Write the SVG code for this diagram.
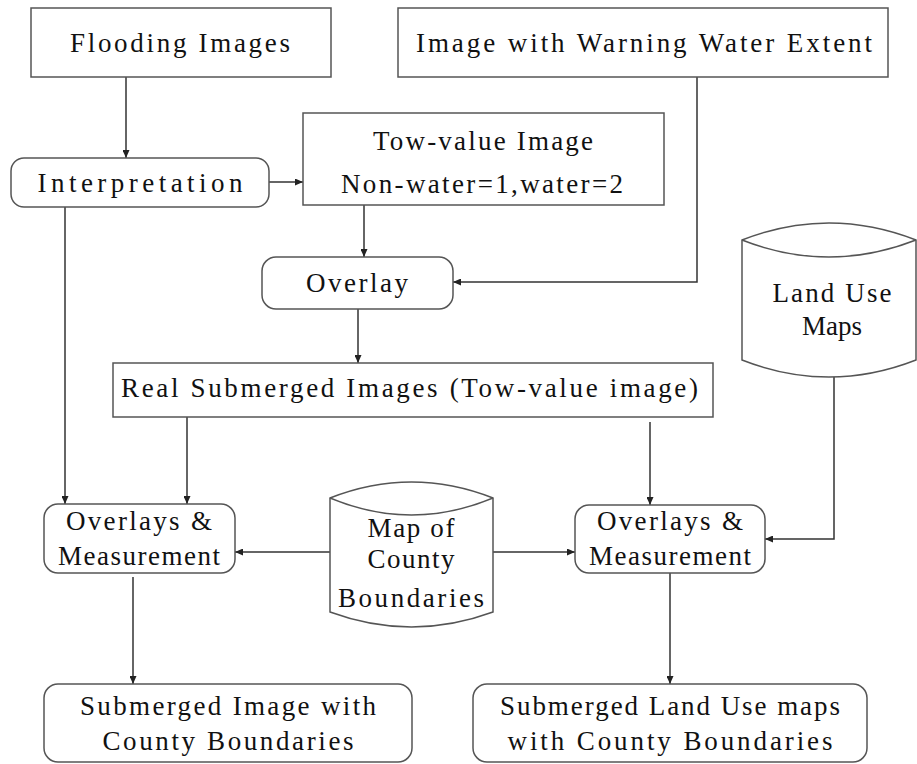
<svg xmlns="http://www.w3.org/2000/svg" width="917" height="764" viewBox="0 0 917 764">
<style>
.box{fill:#fff;stroke:#555;stroke-width:1.5}
.con{fill:none;stroke:#333;stroke-width:1.5}
text{font-family:"Liberation Serif","DejaVu Serif",serif;font-size:27px;fill:#111;text-anchor:middle}
</style>
<defs>
<marker id="ah" markerUnits="userSpaceOnUse" markerWidth="9" markerHeight="7" refX="8" refY="3.5" orient="auto">
<path d="M0,0 L8,3.5 L0,7 z" fill="#222"/>
</marker>
</defs>
<rect width="917" height="764" fill="#fff"/>
<g id="connectors">
<path class="con" d="M126,77 V158" marker-end="url(#ah)"/>
<path class="con" d="M269,182 H303" marker-end="url(#ah)"/>
<path class="con" d="M364,205 V257" marker-end="url(#ah)"/>
<path class="con" d="M697,77 V282 H453" marker-end="url(#ah)"/>
<path class="con" d="M358,309 V363" marker-end="url(#ah)"/>
<path class="con" d="M65,207 V504" marker-end="url(#ah)"/>
<path class="con" d="M187,417 V504" marker-end="url(#ah)"/>
<path class="con" d="M650,422 V505" marker-end="url(#ah)"/>
<path class="con" d="M834,377 V539 H765" marker-end="url(#ah)"/>
<path class="con" d="M330,552 H235" marker-end="url(#ah)"/>
<path class="con" d="M493,552 H575" marker-end="url(#ah)"/>
<path class="con" d="M133,577 V684" marker-end="url(#ah)"/>
<path class="con" d="M670,573 V684" marker-end="url(#ah)"/>
</g>
<g id="flooding">
<rect class="box" x="31" y="8" width="300" height="69"/>
<text x="180" y="52" textLength="220" lengthAdjust="spacing">Flooding Images</text>
</g>
<g id="warning">
<rect class="box" x="398" y="8" width="490" height="69"/>
<text x="644" y="52" textLength="456" lengthAdjust="spacing">Image with Warning Water Extent</text>
</g>
<g id="interpretation">
<rect class="box" x="11" y="158" width="258" height="49" rx="13"/>
<text x="140" y="192" textLength="205" lengthAdjust="spacing">Interpretation</text>
</g>
<g id="towvalue">
<rect class="box" x="303" y="113" width="361" height="92"/>
<text x="483" y="150" textLength="220" lengthAdjust="spacing">Tow-value Image</text>
<text x="482" y="193" textLength="282" lengthAdjust="spacing">Non-water=1,water=2</text>
</g>
<g id="overlay">
<rect class="box" x="262" y="257" width="191" height="52" rx="14"/>
<text x="357" y="292" textLength="102" lengthAdjust="spacing">Overlay</text>
</g>
<g id="landuse">
<path class="box" d="M742,240 Q829,206 916,240 L916,360 Q829,394 742,360 Z"/>
<path class="box" fill="none" d="M742,240 Q829,274 916,240"/>
<text x="832" y="302" textLength="119" lengthAdjust="spacing">Land Use</text>
<text x="832" y="335">Maps</text>
</g>
<g id="realsubmerged">
<rect class="box" x="113" y="363" width="600" height="54"/>
<text x="121" y="397" style="text-anchor:start" textLength="577" lengthAdjust="spacing">Real Submerged Images (Tow-value image)</text>
</g>
<g id="county">
<path class="box" d="M330,498 Q411.5,466 493,498 L493,612 Q411.5,642 330,612 Z"/>
<path class="box" fill="none" d="M330,498 Q411.5,532 493,498"/>
<text x="411" y="537" textLength="87" lengthAdjust="spacing">Map of</text>
<text x="411" y="568" textLength="87" lengthAdjust="spacing">County</text>
<text x="411" y="607" textLength="146" lengthAdjust="spacing">Boundaries</text>
</g>
<g id="overlaysLeft">
<rect class="box" x="44" y="504" width="191" height="69" rx="14"/>
<text x="139" y="530" textLength="146" lengthAdjust="spacing">Overlays &amp;</text>
<text x="139" y="565" textLength="162" lengthAdjust="spacing">Measurement</text>
</g>
<g id="overlaysRight">
<rect class="box" x="575" y="505" width="190" height="68" rx="14"/>
<text x="670" y="530" textLength="146" lengthAdjust="spacing">Overlays &amp;</text>
<text x="670" y="565" textLength="162" lengthAdjust="spacing">Measurement</text>
</g>
<g id="submergedImage">
<rect class="box" x="44" y="684" width="368" height="78" rx="14"/>
<text x="228" y="715" textLength="296" lengthAdjust="spacing">Submerged Image with</text>
<text x="228" y="750" textLength="251" lengthAdjust="spacing">County Boundaries</text>
</g>
<g id="submergedLandUse">
<rect class="box" x="473" y="684" width="394" height="78" rx="14"/>
<text x="670" y="715" textLength="340" lengthAdjust="spacing">Submerged Land Use maps</text>
<text x="670" y="750" textLength="325" lengthAdjust="spacing">with County Boundaries</text>
</g>
</svg>
